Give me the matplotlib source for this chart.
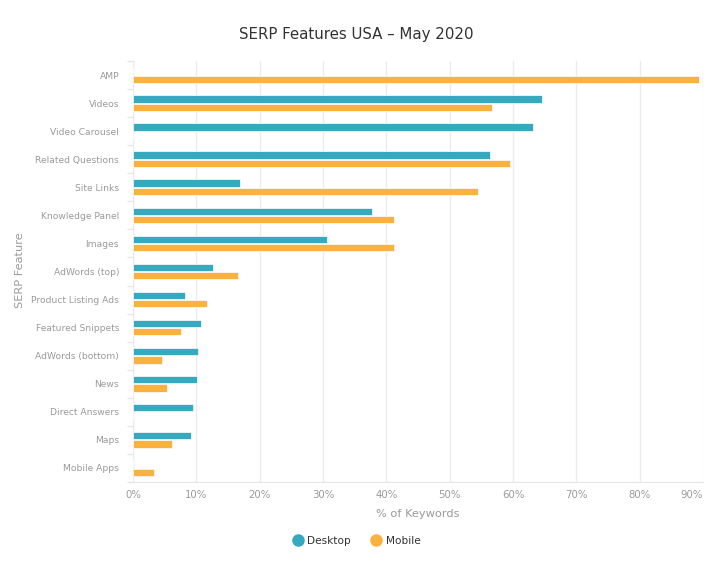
import numpy as np
import matplotlib.pyplot as plt
from matplotlib.lines import Line2D

# ── Data ──────────────────────────────────────────────────────────────────────
features = ["AMP", "Videos", "Video Carousel", "Related Questions", "Site Links",
            "Knowledge Panel", "Images", "AdWords (top)", "Product Listing Ads",
            "Featured Snippets", "AdWords (bottom)", "News", "Direct Answers",
            "Maps", "Mobile Apps"]
desktop = [0.0, 64.6, 63.2, 56.4, 16.9, 37.7, 30.7, 12.7, 8.2, 10.7, 10.3, 10.1, 9.4, 9.1, 0.0]
mobile  = [89.4, 56.7, 0.0, 59.5, 54.5, 41.2, 41.2, 16.6, 11.7, 7.6, 4.6, 5.3, 0.0, 6.2, 3.3]
xticks = [0, 10, 20, 30, 40, 50, 60, 70, 80, 90]

TEAL   = "#35a9bd"
ORANGE = "#f9b13f"
GRID   = "#ececec"
LABEL  = "#9a9a9a"

fig = plt.figure(figsize=(7.22, 5.66), dpi=100)
ax = fig.add_axes([133 / 722, 1 - 482 / 566, 570 / 722, 421 / 566])

y = np.arange(len(features))
bar_h = 0.26
ax.barh(y - 0.15, desktop, height=bar_h, color=TEAL, edgecolor="white", linewidth=0.5, zorder=3)
ax.barh(y + 0.15, mobile, height=bar_h, color=ORANGE, edgecolor="white", linewidth=0.5, zorder=3)

ax.set_xlim(0, 90)
ax.set_ylim(len(features) - 0.5, -0.5)
ax.set_xticks(xticks)
ax.set_xticklabels([f"{t}%" for t in xticks])
ax.get_xticklabels()[-1].set_horizontalalignment("right")
ax.set_yticks(y)
ax.set_yticklabels(features)
# category separator ticks
ax.set_yticks(np.arange(-0.5, len(features), 1.0), minor=True)

ax.grid(axis="x", color=GRID, linewidth=1, zorder=0)
for side in ["top", "right", "left"]:
    ax.spines[side].set_visible(False)
ax.spines["bottom"].set_color("#e6e6e6")
ax.axvline(0, color="#e6e6e6", linewidth=1, zorder=1)

ax.tick_params(axis="y", which="major", length=0, pad=10, labelsize=6.6, labelcolor=LABEL)
ax.tick_params(axis="y", which="minor", length=4, color="#e6e6e6", width=1)
ax.tick_params(axis="x", length=0, pad=6, labelsize=7.3, labelcolor=LABEL)

ax.set_xlabel("% of Keywords", color=LABEL, fontsize=8.2, labelpad=6)
fig.text(20 / 722, 1 - 270 / 566, "SERP Feature", rotation=90, color=LABEL,
         fontsize=8.2, ha="center", va="center")

fig.suptitle("SERP Features USA – May 2020", x=356 / 722, y=1 - 35 / 566, va="center",
             fontsize=10.8, color="#333333")

handles = [Line2D([], [], marker="o", linestyle="", markersize=8, color=TEAL),
           Line2D([], [], marker="o", linestyle="", markersize=8, color=ORANGE)]
fig.legend(handles, ["Desktop", "Mobile"], loc="center", bbox_to_anchor=(356 / 722, 1 - 541 / 566),
           ncol=2, frameon=False, fontsize=7.6, labelcolor="#333333",
           handletextpad=0.3, columnspacing=1.8, handlelength=1.2)

fig.savefig("out.png", dpi=100)
